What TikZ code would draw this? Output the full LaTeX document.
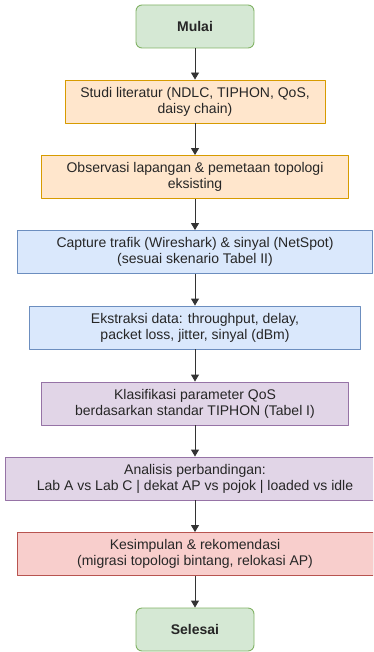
\documentclass[tikz,border=0pt]{standalone}
\usepackage{fontspec}
\setmainfont{Liberation Sans}
\usetikzlibrary{arrows.meta}

\definecolor{hijauisi}{HTML}{D5E8D4}
\definecolor{hijaugaris}{HTML}{82B366}
\definecolor{oranyeisi}{HTML}{FFE6CC}
\definecolor{oranyegaris}{HTML}{D79B00}
\definecolor{biruisi}{HTML}{DAE8FC}
\definecolor{birugaris}{HTML}{6C8EBF}
\definecolor{unguisi}{HTML}{E1D5E7}
\definecolor{ungugaris}{HTML}{9673A6}
\definecolor{merahisi}{HTML}{F8CECC}
\definecolor{merahgaris}{HTML}{B85450}
\definecolor{panah}{HTML}{333333}

\begin{document}
\begin{tikzpicture}[x=1pt, y=-1pt, line join=round,
		font=\fontsize{14}{16}\selectfont, text=black!85,
		kotak/.style={draw, line width=0.9pt, minimum height=43pt, align=center, inner sep=2pt},
		terminal/.style={kotak, rounded corners=6pt, fill=hijauisi, draw=hijaugaris, minimum width=118pt, font=\fontsize{14}{16}\selectfont\bfseries},
		oranye/.style={kotak, fill=oranyeisi, draw=oranyegaris},
		biru/.style={kotak, fill=biruisi, draw=birugaris},
		ungu/.style={kotak, fill=unguisi, draw=ungugaris},
		merah/.style={kotak, fill=merahisi, draw=merahgaris},
		alur/.style={-{Triangle[length=7pt,width=8pt]}, line width=0.9pt, draw=panah}]
	\useasboundingbox (0,0) rectangle (373,652);
	\clip (0,0) rectangle (373,652);

	% langkah-langkah penelitian
	\node[terminal] (mulai) at (195,26.5) {Mulai};
	\node[oranye, minimum width=260pt] (studi) at (195,101.5) {Studi literatur (NDLC, TIPHON, QoS,\\daisy chain)};
	\node[oranye, minimum width=307pt] (observasi) at (195,177) {Observasi lapangan \& pemetaan topologi\\eksisting};
	\node[biru, minimum width=355pt] (capture) at (195,252) {Capture trafik (Wireshark) \& sinyal (NetSpot)\\(sesuai skenario Tabel II)};
	\node[biru, minimum width=331pt] (ekstraksi) at (195,327.5) {Ekstraksi data: throughput, delay,\\packet loss, jitter, sinyal (dBm)};
	\node[ungu, minimum width=307pt] (klasifikasi) at (195,403.5) {Klasifikasi parameter QoS\\berdasarkan standar TIPHON (Tabel I)};
	\node[ungu, minimum width=380pt] (analisis) at (195,478.5) {Analisis perbandingan:\\Lab A vs Lab C | dekat AP vs pojok | loaded vs idle};
	\node[merah, minimum width=356pt] (kesimpulan) at (195,554) {Kesimpulan \& rekomendasi\\(migrasi topologi bintang, relokasi AP)};
	\node[terminal] (selesai) at (195,629.5) {Selesai};

	% panah antar langkah
	\foreach \a/\b in {mulai/studi, studi/observasi, observasi/capture, capture/ekstraksi,
		ekstraksi/klasifikasi, klasifikasi/analisis, analisis/kesimpulan, kesimpulan/selesai}
		\draw[alur] (\a) -- (\b);
\end{tikzpicture}
\end{document}
